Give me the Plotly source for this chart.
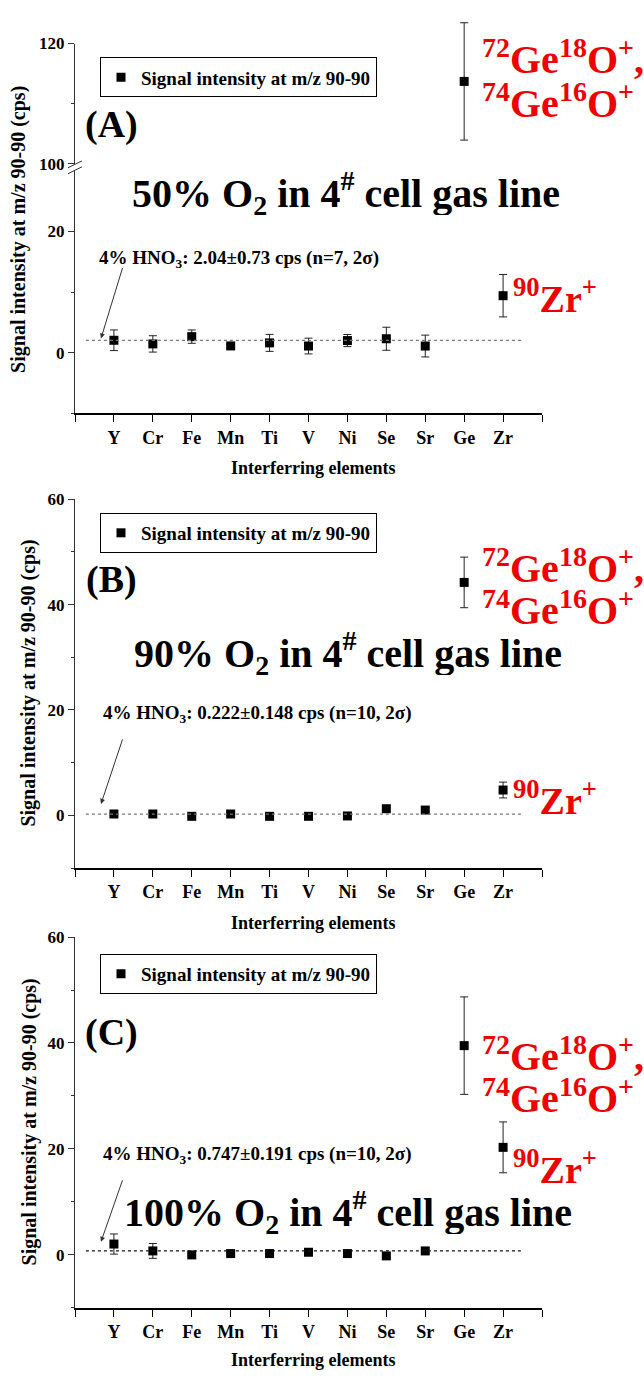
import plotly.graph_objects as go

W, H = 644, 1380
FONT = "Liberation Serif"

categories = ["Y", "Cr", "Fe", "Mn", "Ti", "V", "Ni", "Se", "Sr", "Ge", "Zr"]

# Panel A: 50% O2
a_vals = [2.05, 1.45, 2.65, 1.12, 1.62, 1.10, 2.00, 2.30, 1.10, 113.7, 9.4]
a_err = [1.7, 1.35, 1.1, 0.3, 1.4, 1.3, 1.0, 1.9, 1.8, 9.75, 3.5]
a_blank = 2.04
# Panel B: 90% O2
b_vals = [0.25, 0.25, -0.19, 0.25, -0.19, -0.19, -0.12, 1.25, 1.0, 44.2, 4.8]
b_err = [0.2, 0.2, 0.15, 0.2, 0.15, 0.15, 0.2, 0.5, 0.4, 4.8, 1.5]
b_blank = 0.222
# Panel C: 100% O2
c_vals = [2.05, 0.75, 0.0, 0.25, 0.25, 0.5, 0.25, -0.19, 0.75, 39.5, 20.3]
c_err = [1.9, 1.4, 0.2, 0.2, 0.2, 0.4, 0.2, 0.2, 0.3, 9.2, 4.8]
c_blank = 0.747

blank_texts = [
    "4% HNO<sub>3</sub>: 2.04±0.73 cps (n=7, 2σ)",
    "4% HNO<sub>3</sub>: 0.222±0.148 cps (n=10, 2σ)",
    "4% HNO<sub>3</sub>: 0.747±0.191 cps (n=10, 2σ)",
]
titles = [
    "50% O<sub>2</sub> in 4<sup>#</sup> cell gas line",
    "90% O<sub>2</sub> in 4<sup>#</sup> cell gas line",
    "100% O<sub>2</sub> in 4<sup>#</sup> cell gas line",
]
panel_labels = ["(A)", "(B)", "(C)"]
legend_name = "Signal intensity at m/z 90-90"
x_title = "Interferring elements"
y_title = "Signal intensity at m/z 90-90 (cps)"
BREAK = 100


def px(x):
    return x / W


def py(y):
    return 1 - y / H


xs = list(range(len(categories)))
fig = go.Figure()

ERR = dict(type="data", thickness=1, width=4, color="#222")
MARK = dict(symbol="square", size=9, color="black")


def add_points(vals, errs, xa, ya, legend, showlegend):
    fig.add_trace(go.Scatter(
        x=xs, y=vals, mode="markers", marker=MARK,
        error_y=dict(array=errs, **ERR), name=legend_name,
        xaxis=xa, yaxis=ya, cliponaxis=False,
        legend=legend, showlegend=showlegend))


# Panel A split around the axis break; the upper part is drawn on a hidden
# axis with the same scale as the visible upper segment, so its error bar is not cut
a_low = [v if v < BREAK else None for v in a_vals]
a_high = [v if v >= BREAK else None for v in a_vals]
add_points(a_low, a_err, "x", "y", "legend", True)
add_points(a_high, a_err, "x", "y5", "legend", False)
# empty trace so the visible upper-segment axis is created
fig.add_trace(go.Scatter(x=[], y=[], xaxis="x", yaxis="y2", showlegend=False))
add_points(b_vals, b_err, "x2", "y3", "legend2", True)
add_points(c_vals, c_err, "x3", "y4", "legend3", True)

# blank dotted lines
line_x = [-0.72, 10.5]
for blank, xa, ya, col in [(a_blank, "x", "y", "#777"), (b_blank, "x2", "y3", "#777"),
                           (c_blank, "x3", "y4", "#111")]:
    fig.add_trace(go.Scatter(x=line_x, y=[blank, blank], mode="lines",
                             line=dict(color=col, width=1.2, dash="dot"),
                             xaxis=xa, yaxis=ya, showlegend=False, hoverinfo="skip"))

tickfont = dict(family=FONT, size=17, color="black", weight="bold")
xtickfont = dict(family=FONT, size=18, color="black", weight="bold")
xdom = [px(75), px(542)]
xcommon = dict(range=[-1, 11], tickvals=list(range(-1, 12)),
               ticktext=[""] + [f"<b>{c}</b>" for c in categories] + [""],
               ticks="outside", ticklen=7, tickwidth=1, tickcolor="black",
               showline=True, linecolor="black", linewidth=1.5,
               showgrid=False, zeroline=False, tickfont=xtickfont, domain=xdom)
ybase = dict(ticks="outside", ticklen=6, tickwidth=1, tickcolor="#333",
             showline=True, linecolor="#333", linewidth=1,
             showgrid=False, zeroline=False, tickfont=tickfont)


def minor(vals):
    return dict(ticks="outside", ticklen=3, tickcolor="#333", tickvals=vals)


up_bot, up_top, up_ext = 157, 35, 8
up_range = [100, 120]
ext_top = up_range[0] + (up_range[1] - up_range[0]) * (up_bot - up_ext) / (up_bot - up_top)

layout = dict(
    width=W, height=H, margin=dict(l=0, r=0, t=0, b=0),
    paper_bgcolor="white", plot_bgcolor="rgba(0,0,0,0)",
    font=dict(family=FONT, color="black"),
    xaxis=dict(anchor="y", **xcommon),
    xaxis2=dict(anchor="y3", **xcommon),
    xaxis3=dict(anchor="y4", **xcommon),
    yaxis=dict(anchor="x", domain=[py(410), py(164)], range=[-10, 30],
               tickvals=[0, 20], minor=minor([-10, 10]), **ybase),
    yaxis2=dict(anchor="x", domain=[py(up_bot), py(up_top)], range=up_range,
                tickvals=[100, 120], minor=minor([110]), **ybase),
    yaxis5=dict(anchor="x", domain=[py(up_bot), py(up_ext)], range=[up_range[0], ext_top],
                visible=False, showgrid=False, zeroline=False),
    yaxis3=dict(anchor="x2", domain=[py(871), py(497)], range=[-10, 60],
                tickvals=[0, 20, 40, 60], minor=minor([-10, 10, 30, 50]), **ybase),
    yaxis4=dict(anchor="x3", domain=[py(1317), py(941)], range=[-10, 60],
                tickvals=[0, 20, 40, 60], minor=minor([-10, 10, 30, 50]), **ybase),
)

legfont = dict(family=FONT, size=19, color="black", weight="bold")
for key, top in [("legend", 49), ("legend2", 511), ("legend3", 958)]:
    layout[key] = dict(x=px(100), y=py(top), xanchor="left", yanchor="top",
                       bordercolor="black", borderwidth=1, bgcolor="white",
                       font=legfont, itemwidth=30, tracegroupgap=0)

fig.update_layout(**layout)

ann = []


def text(x, y, t, size, color="black", xanchor="center", angle=0, height=None):
    ann.append(dict(x=px(x), y=py(y), xref="paper", yref="paper", text=t,
                    showarrow=False, xanchor=xanchor, yanchor="middle",
                    textangle=angle, height=height,
                    font=dict(family=FONT, size=size, color=color, weight="bold")))


panels = [
    dict(lab_y=117, title_y=187, title_x=346, ge1=49, ge2=93, zr=291,
         blank_y=253, arrow=(123, 262, 101, 334), xtitle=465, ytitle=(19, 224)),
    dict(lab_y=578, title_y=653, title_x=348, ge1=565, ge2=607, zr=800,
         blank_y=715, arrow=(123, 740, 101, 806), xtitle=927, ytitle=(29, 684)),
    dict(lab_y=1038, title_y=1220, title_x=348, ge1=1060, ge2=1102, zr=1174,
         blank_y=1162, arrow=(123, 1187, 101, 1250), xtitle=1370, ytitle=(29, 1129)),
]
for i, p in enumerate(panels):
    text(111, p["lab_y"], panel_labels[i], 38)
    text(p["title_x"], p["title_y"], titles[i], 40, height=44)
    text(480, p["ge1"], "<sup>72</sup>Ge<sup>18</sup>O<sup>+</sup>,", 40, "#ee0000", "left", height=44)
    text(480, p["ge2"], "<sup>74</sup>Ge<sup>16</sup>O<sup>+</sup>", 40, "#ee0000", "left", height=40)
    text(511, p["zr"], "<sup>90</sup>Zr<sup>+</sup>", 38, "#ee0000", "left", height=42)
    text(97 if i == 0 else 101, p["blank_y"], blank_texts[i], 19, xanchor="left")
    text(313, p["xtitle"], x_title, 18)
    text(p["ytitle"][0], p["ytitle"][1], y_title, 20, angle=-90)
    tx, ty, hx, hy = p["arrow"]
    ann.append(dict(x=px(hx), y=py(hy), xref="paper", yref="paper", text="",
                    showarrow=True, axref="pixel", ayref="pixel",
                    ax=tx - hx, ay=ty - hy, arrowhead=2, arrowsize=1,
                    arrowwidth=1, arrowcolor="#333"))

fig.update_layout(annotations=ann)

# axis break marks on panel A
for y0 in (161, 167):
    fig.add_shape(type="line", xref="paper", yref="paper",
                  x0=px(68), y0=py(y0), x1=px(82), y1=py(y0 - 7),
                  line=dict(color="#333", width=1))

fig.write_html("out.html")
